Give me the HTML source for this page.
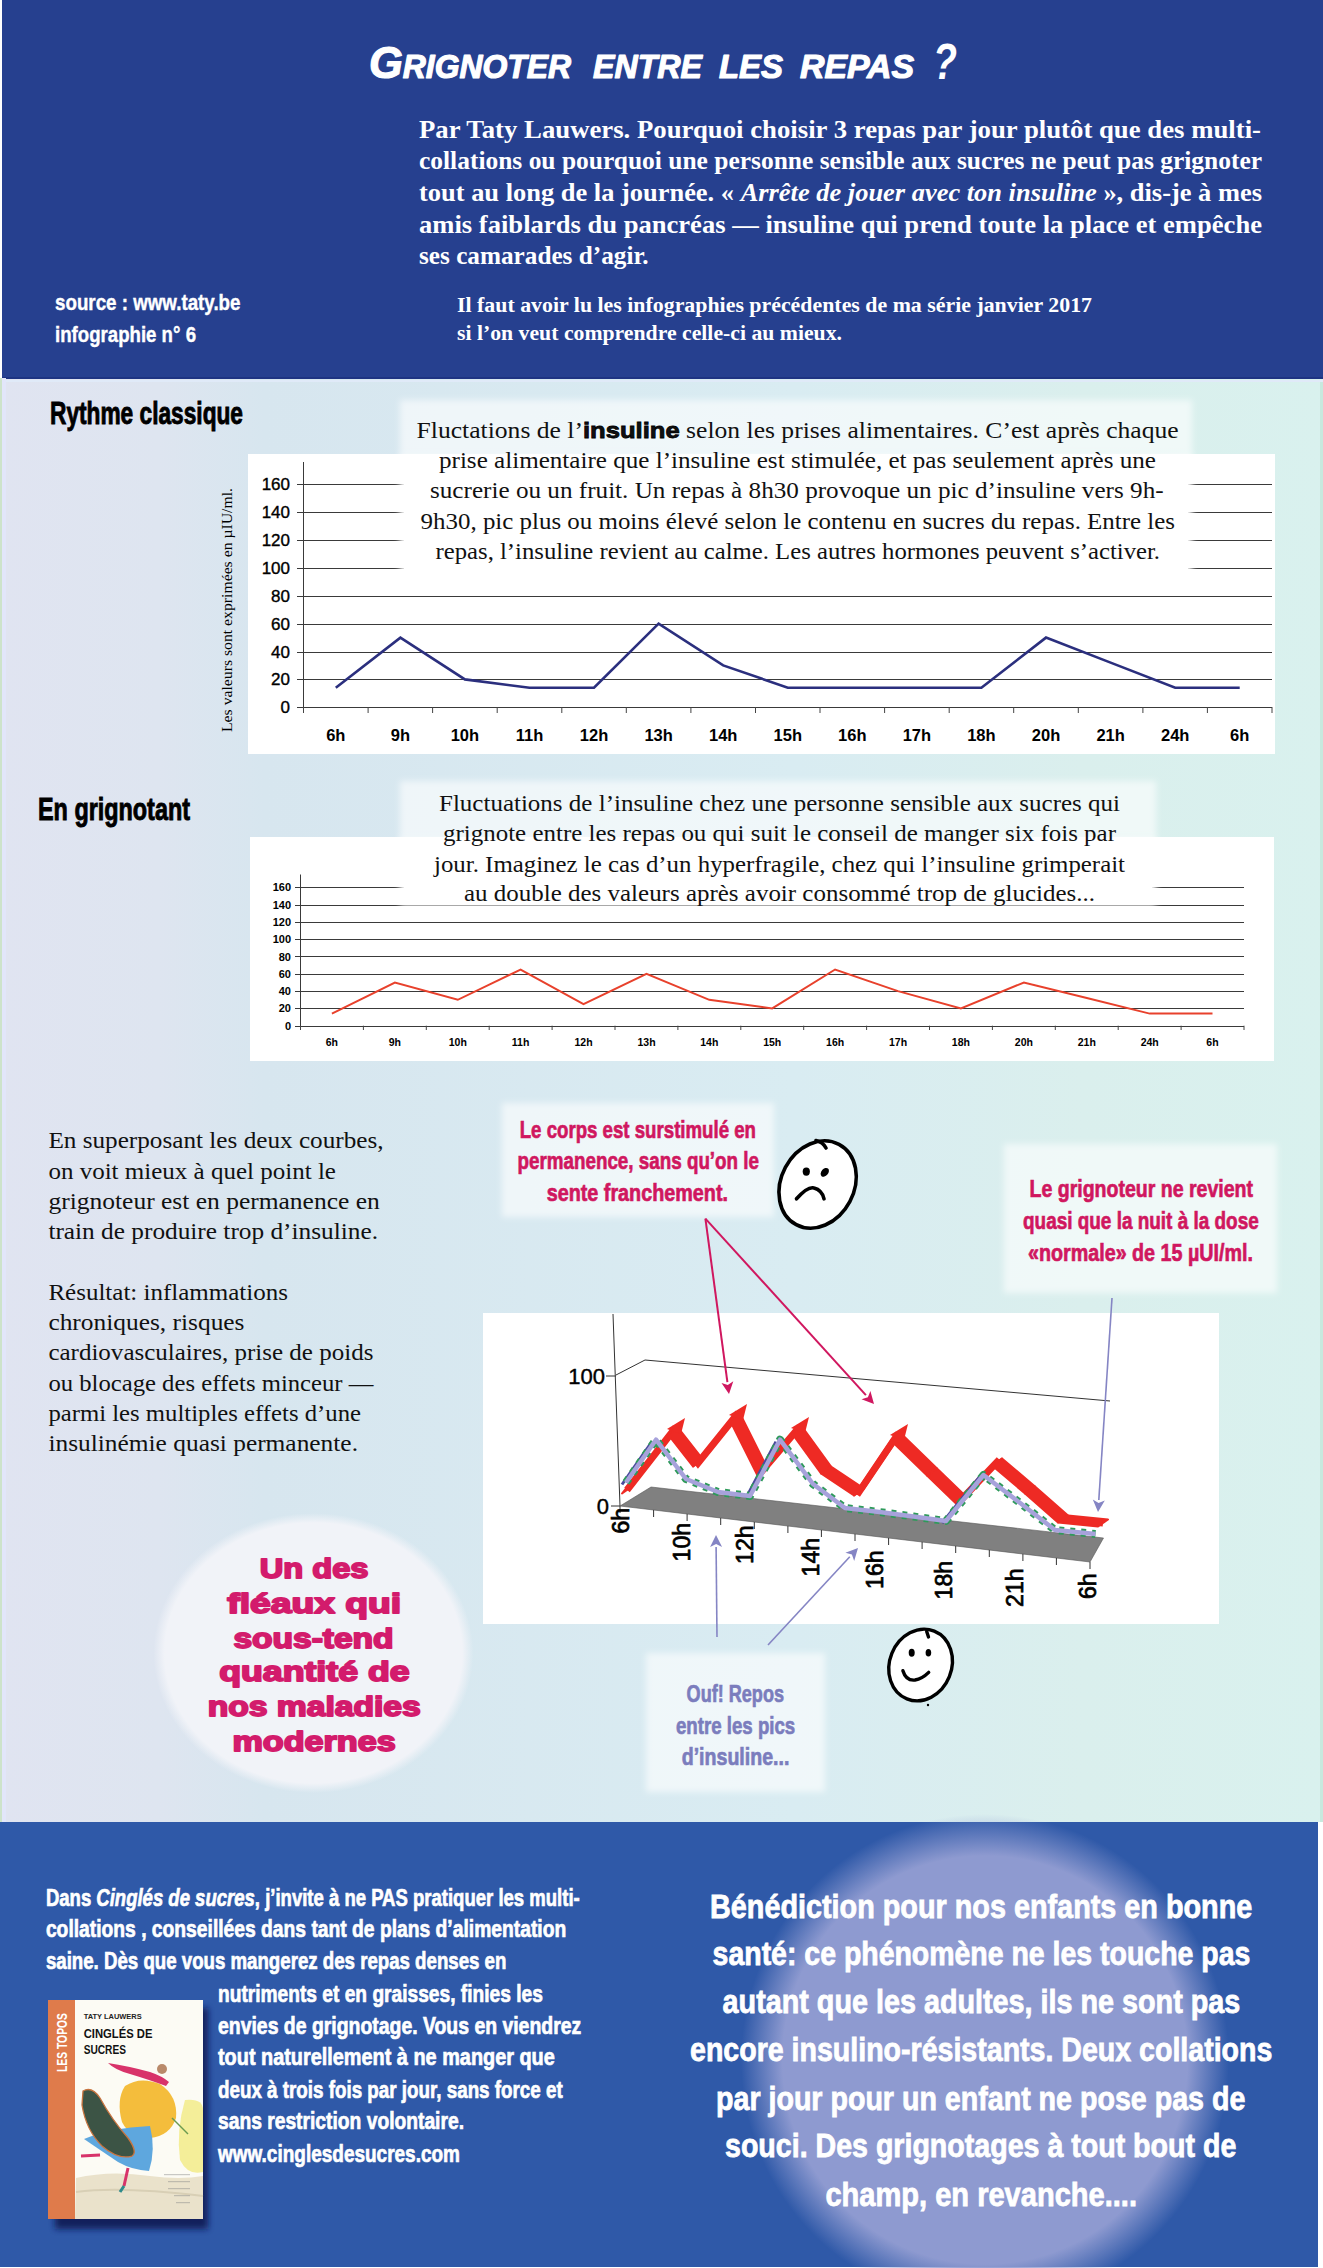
<!DOCTYPE html>
<html><head><meta charset="utf-8"><title>Grignoter entre les repas ?</title>
<style>html,body{margin:0;padding:0;width:1323px;height:2268px;overflow:hidden;background:#fff}</style>
</head><body>
<svg width="1323" height="2268" viewBox="0 0 1323 2268" style="display:block">
<defs>
<linearGradient id="midbg" x1="0" y1="0" x2="1" y2="0">
 <stop offset="0" stop-color="#E0E4F1"/>
 <stop offset="0.12" stop-color="#DEE5F0"/>
 <stop offset="0.2" stop-color="#D7E6EF"/>
 <stop offset="0.6" stop-color="#D9ECF2"/>
 <stop offset="0.82" stop-color="#DAEFED"/>
 <stop offset="1" stop-color="#D9F1EE"/>
</linearGradient>
<radialGradient id="glow" cx="0.5" cy="0.5" r="0.5">
 <stop offset="0" stop-color="#8E9AD0"/>
 <stop offset="0.83" stop-color="#8E9AD0"/>
 <stop offset="1" stop-color="#8E9AD0" stop-opacity="0"/>
</radialGradient>
<radialGradient id="oval" cx="0.5" cy="0.5" r="0.5">
 <stop offset="0" stop-color="#F1F3F8"/>
 <stop offset="0.93" stop-color="#F1F3F8"/>
 <stop offset="1" stop-color="#F1F3F8" stop-opacity="0"/>
</radialGradient>
<filter id="soft" x="-10%" y="-10%" width="120%" height="120%"><feGaussianBlur stdDeviation="3"/></filter>
<filter id="shadow" x="-20%" y="-20%" width="150%" height="150%"><feGaussianBlur stdDeviation="3"/></filter>
</defs>
<rect x="0" y="0" width="1323" height="2268" fill="#fff"/>
<rect x="0" y="379" width="1323" height="1443" fill="url(#midbg)"/>
<rect x="2" y="0" width="1321" height="379" fill="#26408F"/>
<rect x="2" y="377" width="1321" height="2" fill="#1E3482"/>
<rect x="0" y="380" width="1323" height="2" fill="#E0EAF8"/>
<rect x="0" y="378" width="2" height="1444" fill="#CDE3CB"/>
<rect x="2" y="378" width="4" height="1444" fill="#E2E6FA"/>
<rect x="1320" y="382" width="3" height="1440" fill="#C8E9DE"/>
<rect x="0" y="1822" width="1318" height="445" fill="#2F59A8"/>
<text x="369" y="78" font-family='"Liberation Sans", sans-serif' font-weight="bold" font-style="italic" fill="#fff" stroke="#fff" stroke-width="1.2" stroke-linejoin="round" textLength="202" lengthAdjust="spacingAndGlyphs"><tspan font-size="45">G</tspan><tspan font-size="33">RIGNOTER</tspan></text>
<text x="593" y="78" font-family='"Liberation Sans", sans-serif' font-weight="bold" font-style="italic" fill="#fff" stroke="#fff" stroke-width="1.2" stroke-linejoin="round" textLength="109" lengthAdjust="spacingAndGlyphs"><tspan font-size="45"></tspan><tspan font-size="33">ENTRE</tspan></text>
<text x="719" y="78" font-family='"Liberation Sans", sans-serif' font-weight="bold" font-style="italic" fill="#fff" stroke="#fff" stroke-width="1.2" stroke-linejoin="round" textLength="64" lengthAdjust="spacingAndGlyphs"><tspan font-size="45"></tspan><tspan font-size="33">LES</tspan></text>
<text x="800" y="78" font-family='"Liberation Sans", sans-serif' font-weight="bold" font-style="italic" fill="#fff" stroke="#fff" stroke-width="1.2" stroke-linejoin="round" textLength="114" lengthAdjust="spacingAndGlyphs"><tspan font-size="45"></tspan><tspan font-size="33">REPAS</tspan></text>
<text x="933.0" y="79.0" font-family='"Liberation Sans", sans-serif' font-size="50" font-weight="bold" font-style="italic" fill="#FFFFFF" textLength="24.0" lengthAdjust="spacingAndGlyphs" >?</text>
<text x="419.0" y="137.6" font-family='"Liberation Serif", serif' font-size="24.5" font-weight="bold" font-style="normal" fill="#FFFFFF" textLength="842.0" lengthAdjust="spacingAndGlyphs" >Par Taty Lauwers. Pourquoi choisir 3 repas par jour plutôt que des multi-</text>
<text x="419.0" y="169.2" font-family='"Liberation Serif", serif' font-size="24.5" font-weight="bold" font-style="normal" fill="#FFFFFF" textLength="843.0" lengthAdjust="spacingAndGlyphs" >collations ou pourquoi une personne sensible aux sucres ne peut pas grignoter</text>
<text x="419.0" y="200.9" font-family='"Liberation Serif", serif' font-size="24.5" font-weight="bold" font-style="normal" fill="#FFFFFF" textLength="843.0" lengthAdjust="spacingAndGlyphs" >tout au long de la journée. « <tspan font-style="italic">Arrête de jouer avec ton insuline</tspan> », dis-je à mes</text>
<text x="419.0" y="232.6" font-family='"Liberation Serif", serif' font-size="24.5" font-weight="bold" font-style="normal" fill="#FFFFFF" textLength="843.0" lengthAdjust="spacingAndGlyphs" >amis  faiblards du pancréas — insuline qui prend toute la place et empêche</text>
<text x="419.0" y="264.3" font-family='"Liberation Serif", serif' font-size="24.5" font-weight="bold" font-style="normal" fill="#FFFFFF" textLength="229.6" lengthAdjust="spacingAndGlyphs" >ses camarades d’agir.</text>
<text x="55.0" y="310.0" font-family='"Liberation Sans", sans-serif' font-size="22" font-weight="bold" font-style="normal" fill="#FFFFFF" textLength="185.5" lengthAdjust="spacingAndGlyphs" stroke="#fff" stroke-width="0.4">source : www.taty.be</text>
<text x="55.0" y="342.0" font-family='"Liberation Sans", sans-serif' font-size="22" font-weight="bold" font-style="normal" fill="#FFFFFF" textLength="141.0" lengthAdjust="spacingAndGlyphs" stroke="#fff" stroke-width="0.4">infographie n° 6</text>
<text x="457.0" y="312.0" font-family='"Liberation Serif", serif' font-size="20" font-weight="bold" font-style="normal" fill="#FFFFFF" textLength="635.0" lengthAdjust="spacingAndGlyphs" >Il faut avoir lu les infographies précédentes de ma série janvier 2017</text>
<text x="457.0" y="340.0" font-family='"Liberation Serif", serif' font-size="20" font-weight="bold" font-style="normal" fill="#FFFFFF" textLength="385.0" lengthAdjust="spacingAndGlyphs" >si l’on veut comprendre celle-ci au mieux.</text>
<text x="50" y="424" font-family='"Liberation Sans", sans-serif' font-size="31" font-weight="bold" fill="#000" stroke="#000" stroke-width="0.9" textLength="193" lengthAdjust="spacingAndGlyphs">Rythme classique</text>
<rect x="248" y="454" width="1027" height="300" fill="#fff"/>
<rect x="400" y="400" width="792" height="54" fill="#fff" fill-opacity="0.6" filter="url(#soft)"/>
<line x1="297" y1="707.5" x2="1272" y2="707.5" stroke="#3a3a3a" stroke-width="1"/>
<line x1="297" y1="679.5" x2="1272" y2="679.5" stroke="#3a3a3a" stroke-width="1"/>
<line x1="297" y1="652.5" x2="1272" y2="652.5" stroke="#3a3a3a" stroke-width="1"/>
<line x1="297" y1="624.5" x2="1272" y2="624.5" stroke="#3a3a3a" stroke-width="1"/>
<line x1="297" y1="596.5" x2="1272" y2="596.5" stroke="#3a3a3a" stroke-width="1"/>
<line x1="297" y1="568.5" x2="1272" y2="568.5" stroke="#3a3a3a" stroke-width="1"/>
<line x1="297" y1="540.5" x2="1272" y2="540.5" stroke="#3a3a3a" stroke-width="1"/>
<line x1="297" y1="512.5" x2="1272" y2="512.5" stroke="#3a3a3a" stroke-width="1"/>
<line x1="297" y1="484.5" x2="1272" y2="484.5" stroke="#3a3a3a" stroke-width="1"/>
<line x1="303.5" y1="462" x2="303.5" y2="707.5" stroke="#3a3a3a" stroke-width="1"/>
<line x1="303.5" y1="707" x2="303.5" y2="713" stroke="#444" stroke-width="1"/>
<line x1="368.1" y1="707" x2="368.1" y2="713" stroke="#444" stroke-width="1"/>
<line x1="432.6" y1="707" x2="432.6" y2="713" stroke="#444" stroke-width="1"/>
<line x1="497.2" y1="707" x2="497.2" y2="713" stroke="#444" stroke-width="1"/>
<line x1="561.8" y1="707" x2="561.8" y2="713" stroke="#444" stroke-width="1"/>
<line x1="626.3" y1="707" x2="626.3" y2="713" stroke="#444" stroke-width="1"/>
<line x1="690.9" y1="707" x2="690.9" y2="713" stroke="#444" stroke-width="1"/>
<line x1="755.5" y1="707" x2="755.5" y2="713" stroke="#444" stroke-width="1"/>
<line x1="820.0" y1="707" x2="820.0" y2="713" stroke="#444" stroke-width="1"/>
<line x1="884.6" y1="707" x2="884.6" y2="713" stroke="#444" stroke-width="1"/>
<line x1="949.2" y1="707" x2="949.2" y2="713" stroke="#444" stroke-width="1"/>
<line x1="1013.7" y1="707" x2="1013.7" y2="713" stroke="#444" stroke-width="1"/>
<line x1="1078.3" y1="707" x2="1078.3" y2="713" stroke="#444" stroke-width="1"/>
<line x1="1142.9" y1="707" x2="1142.9" y2="713" stroke="#444" stroke-width="1"/>
<line x1="1207.4" y1="707" x2="1207.4" y2="713" stroke="#444" stroke-width="1"/>
<line x1="1272.0" y1="707" x2="1272.0" y2="713" stroke="#444" stroke-width="1"/>
<text x="290" y="713.2" font-family='"Liberation Sans", sans-serif' font-size="17" text-anchor="end" fill="#000" stroke="#000" stroke-width="0.35">0</text>
<text x="290" y="685.4" font-family='"Liberation Sans", sans-serif' font-size="17" text-anchor="end" fill="#000" stroke="#000" stroke-width="0.35">20</text>
<text x="290" y="657.5" font-family='"Liberation Sans", sans-serif' font-size="17" text-anchor="end" fill="#000" stroke="#000" stroke-width="0.35">40</text>
<text x="290" y="629.7" font-family='"Liberation Sans", sans-serif' font-size="17" text-anchor="end" fill="#000" stroke="#000" stroke-width="0.35">60</text>
<text x="290" y="601.8" font-family='"Liberation Sans", sans-serif' font-size="17" text-anchor="end" fill="#000" stroke="#000" stroke-width="0.35">80</text>
<text x="290" y="574.0" font-family='"Liberation Sans", sans-serif' font-size="17" text-anchor="end" fill="#000" stroke="#000" stroke-width="0.35">100</text>
<text x="290" y="546.1" font-family='"Liberation Sans", sans-serif' font-size="17" text-anchor="end" fill="#000" stroke="#000" stroke-width="0.35">120</text>
<text x="290" y="518.2" font-family='"Liberation Sans", sans-serif' font-size="17" text-anchor="end" fill="#000" stroke="#000" stroke-width="0.35">140</text>
<text x="290" y="490.4" font-family='"Liberation Sans", sans-serif' font-size="17" text-anchor="end" fill="#000" stroke="#000" stroke-width="0.35">160</text>
<text x="335.8" y="741" font-family='"Liberation Sans", sans-serif' font-size="16.5" font-weight="bold" text-anchor="middle" fill="#000">6h</text>
<text x="400.4" y="741" font-family='"Liberation Sans", sans-serif' font-size="16.5" font-weight="bold" text-anchor="middle" fill="#000">9h</text>
<text x="464.9" y="741" font-family='"Liberation Sans", sans-serif' font-size="16.5" font-weight="bold" text-anchor="middle" fill="#000">10h</text>
<text x="529.5" y="741" font-family='"Liberation Sans", sans-serif' font-size="16.5" font-weight="bold" text-anchor="middle" fill="#000">11h</text>
<text x="594.0" y="741" font-family='"Liberation Sans", sans-serif' font-size="16.5" font-weight="bold" text-anchor="middle" fill="#000">12h</text>
<text x="658.6" y="741" font-family='"Liberation Sans", sans-serif' font-size="16.5" font-weight="bold" text-anchor="middle" fill="#000">13h</text>
<text x="723.2" y="741" font-family='"Liberation Sans", sans-serif' font-size="16.5" font-weight="bold" text-anchor="middle" fill="#000">14h</text>
<text x="787.8" y="741" font-family='"Liberation Sans", sans-serif' font-size="16.5" font-weight="bold" text-anchor="middle" fill="#000">15h</text>
<text x="852.3" y="741" font-family='"Liberation Sans", sans-serif' font-size="16.5" font-weight="bold" text-anchor="middle" fill="#000">16h</text>
<text x="916.9" y="741" font-family='"Liberation Sans", sans-serif' font-size="16.5" font-weight="bold" text-anchor="middle" fill="#000">17h</text>
<text x="981.4" y="741" font-family='"Liberation Sans", sans-serif' font-size="16.5" font-weight="bold" text-anchor="middle" fill="#000">18h</text>
<text x="1046.0" y="741" font-family='"Liberation Sans", sans-serif' font-size="16.5" font-weight="bold" text-anchor="middle" fill="#000">20h</text>
<text x="1110.6" y="741" font-family='"Liberation Sans", sans-serif' font-size="16.5" font-weight="bold" text-anchor="middle" fill="#000">21h</text>
<text x="1175.2" y="741" font-family='"Liberation Sans", sans-serif' font-size="16.5" font-weight="bold" text-anchor="middle" fill="#000">24h</text>
<text x="1239.7" y="741" font-family='"Liberation Sans", sans-serif' font-size="16.5" font-weight="bold" text-anchor="middle" fill="#000">6h</text>
<polyline points="335.8,687.7 400.4,637.6 464.9,679.4 529.5,687.7 594.0,687.7 658.6,623.7 723.2,665.4 787.8,687.7 852.3,687.7 916.9,687.7 981.4,687.7 1046.0,637.6 1110.6,662.6 1175.2,687.7 1239.7,687.7" fill="none" stroke="#2B2F7E" stroke-width="2.6" stroke-linejoin="miter"/>
<rect x="400" y="454" width="792" height="119" fill="#fff" filter="url(#soft)"/>
<rect x="404" y="454" width="784" height="117" fill="#fff"/>
<text x="416.6" y="437.5" font-family='"Liberation Serif", serif' font-size="22.5" font-weight="normal" font-style="normal" fill="#111" textLength="762.1" lengthAdjust="spacingAndGlyphs" >Fluctations de l’<tspan font-family='"Liberation Sans", sans-serif' font-weight="900" stroke="#000" stroke-width="0.8">insuline</tspan> selon les prises alimentaires. C’est après chaque</text>
<text x="439.0" y="467.5" font-family='"Liberation Serif", serif' font-size="22.5" font-weight="normal" font-style="normal" fill="#111" textLength="717.0" lengthAdjust="spacingAndGlyphs" >prise alimentaire que l’insuline est stimulée, et pas seulement après une</text>
<text x="430.0" y="497.5" font-family='"Liberation Serif", serif' font-size="22.5" font-weight="normal" font-style="normal" fill="#111" textLength="733.6" lengthAdjust="spacingAndGlyphs" >sucrerie ou un fruit. Un repas à 8h30 provoque un pic d’insuline vers 9h-</text>
<text x="420.6" y="528.5" font-family='"Liberation Serif", serif' font-size="22.5" font-weight="normal" font-style="normal" fill="#111" textLength="754.4" lengthAdjust="spacingAndGlyphs" >9h30, pic plus ou moins élevé selon le contenu en sucres du repas. Entre les</text>
<text x="435.5" y="558.5" font-family='"Liberation Serif", serif' font-size="22.5" font-weight="normal" font-style="normal" fill="#111" textLength="724.5" lengthAdjust="spacingAndGlyphs" >repas, l’insuline revient au calme. Les autres hormones peuvent s’activer.</text>
<text transform="translate(232,732) rotate(-90)" x="0" y="0" font-family='"Liberation Serif", serif' font-size="15" fill="#000" textLength="244" lengthAdjust="spacingAndGlyphs">Les valeurs sont exprimées en µIU/ml.</text>
<text x="38" y="820" font-family='"Liberation Sans", sans-serif' font-size="31" font-weight="bold" fill="#000" stroke="#000" stroke-width="0.9" textLength="152" lengthAdjust="spacingAndGlyphs">En grignotant</text>
<rect x="250" y="837" width="1024" height="224" fill="#fff"/>
<rect x="400" y="781" width="756" height="56" fill="#fff" fill-opacity="0.6" filter="url(#soft)"/>
<line x1="295" y1="1026.5" x2="1244" y2="1026.5" stroke="#3a3a3a" stroke-width="1"/>
<line x1="295" y1="1008.5" x2="1244" y2="1008.5" stroke="#3a3a3a" stroke-width="1"/>
<line x1="295" y1="991.5" x2="1244" y2="991.5" stroke="#3a3a3a" stroke-width="1"/>
<line x1="295" y1="974.5" x2="1244" y2="974.5" stroke="#3a3a3a" stroke-width="1"/>
<line x1="295" y1="956.5" x2="1244" y2="956.5" stroke="#3a3a3a" stroke-width="1"/>
<line x1="295" y1="939.5" x2="1244" y2="939.5" stroke="#3a3a3a" stroke-width="1"/>
<line x1="295" y1="922.5" x2="1244" y2="922.5" stroke="#3a3a3a" stroke-width="1"/>
<line x1="295" y1="905.5" x2="1244" y2="905.5" stroke="#3a3a3a" stroke-width="1"/>
<line x1="295" y1="887.5" x2="1244" y2="887.5" stroke="#3a3a3a" stroke-width="1"/>
<line x1="300.5" y1="874.5" x2="300.5" y2="1026" stroke="#3a3a3a" stroke-width="1"/>
<line x1="300.5" y1="1025.7" x2="300.5" y2="1030" stroke="#444" stroke-width="1"/>
<line x1="363.4" y1="1025.7" x2="363.4" y2="1030" stroke="#444" stroke-width="1"/>
<line x1="426.3" y1="1025.7" x2="426.3" y2="1030" stroke="#444" stroke-width="1"/>
<line x1="489.2" y1="1025.7" x2="489.2" y2="1030" stroke="#444" stroke-width="1"/>
<line x1="552.1" y1="1025.7" x2="552.1" y2="1030" stroke="#444" stroke-width="1"/>
<line x1="615.0" y1="1025.7" x2="615.0" y2="1030" stroke="#444" stroke-width="1"/>
<line x1="677.9" y1="1025.7" x2="677.9" y2="1030" stroke="#444" stroke-width="1"/>
<line x1="740.8" y1="1025.7" x2="740.8" y2="1030" stroke="#444" stroke-width="1"/>
<line x1="803.7" y1="1025.7" x2="803.7" y2="1030" stroke="#444" stroke-width="1"/>
<line x1="866.6" y1="1025.7" x2="866.6" y2="1030" stroke="#444" stroke-width="1"/>
<line x1="929.5" y1="1025.7" x2="929.5" y2="1030" stroke="#444" stroke-width="1"/>
<line x1="992.4" y1="1025.7" x2="992.4" y2="1030" stroke="#444" stroke-width="1"/>
<line x1="1055.3" y1="1025.7" x2="1055.3" y2="1030" stroke="#444" stroke-width="1"/>
<line x1="1118.2" y1="1025.7" x2="1118.2" y2="1030" stroke="#444" stroke-width="1"/>
<line x1="1181.1" y1="1025.7" x2="1181.1" y2="1030" stroke="#444" stroke-width="1"/>
<line x1="1244.0" y1="1025.7" x2="1244.0" y2="1030" stroke="#444" stroke-width="1"/>
<text x="291" y="1029.7" font-family='"Liberation Sans", sans-serif' font-size="11" font-weight="bold" text-anchor="end" fill="#000">0</text>
<text x="291" y="1012.4" font-family='"Liberation Sans", sans-serif' font-size="11" font-weight="bold" text-anchor="end" fill="#000">20</text>
<text x="291" y="995.1" font-family='"Liberation Sans", sans-serif' font-size="11" font-weight="bold" text-anchor="end" fill="#000">40</text>
<text x="291" y="977.8" font-family='"Liberation Sans", sans-serif' font-size="11" font-weight="bold" text-anchor="end" fill="#000">60</text>
<text x="291" y="960.5" font-family='"Liberation Sans", sans-serif' font-size="11" font-weight="bold" text-anchor="end" fill="#000">80</text>
<text x="291" y="943.2" font-family='"Liberation Sans", sans-serif' font-size="11" font-weight="bold" text-anchor="end" fill="#000">100</text>
<text x="291" y="925.9" font-family='"Liberation Sans", sans-serif' font-size="11" font-weight="bold" text-anchor="end" fill="#000">120</text>
<text x="291" y="908.6" font-family='"Liberation Sans", sans-serif' font-size="11" font-weight="bold" text-anchor="end" fill="#000">140</text>
<text x="291" y="891.3" font-family='"Liberation Sans", sans-serif' font-size="11" font-weight="bold" text-anchor="end" fill="#000">160</text>
<text x="331.9" y="1046" font-family='"Liberation Sans", sans-serif' font-size="10.5" font-weight="bold" text-anchor="middle" fill="#000">6h</text>
<text x="394.9" y="1046" font-family='"Liberation Sans", sans-serif' font-size="10.5" font-weight="bold" text-anchor="middle" fill="#000">9h</text>
<text x="457.8" y="1046" font-family='"Liberation Sans", sans-serif' font-size="10.5" font-weight="bold" text-anchor="middle" fill="#000">10h</text>
<text x="520.6" y="1046" font-family='"Liberation Sans", sans-serif' font-size="10.5" font-weight="bold" text-anchor="middle" fill="#000">11h</text>
<text x="583.5" y="1046" font-family='"Liberation Sans", sans-serif' font-size="10.5" font-weight="bold" text-anchor="middle" fill="#000">12h</text>
<text x="646.5" y="1046" font-family='"Liberation Sans", sans-serif' font-size="10.5" font-weight="bold" text-anchor="middle" fill="#000">13h</text>
<text x="709.3" y="1046" font-family='"Liberation Sans", sans-serif' font-size="10.5" font-weight="bold" text-anchor="middle" fill="#000">14h</text>
<text x="772.2" y="1046" font-family='"Liberation Sans", sans-serif' font-size="10.5" font-weight="bold" text-anchor="middle" fill="#000">15h</text>
<text x="835.1" y="1046" font-family='"Liberation Sans", sans-serif' font-size="10.5" font-weight="bold" text-anchor="middle" fill="#000">16h</text>
<text x="898.0" y="1046" font-family='"Liberation Sans", sans-serif' font-size="10.5" font-weight="bold" text-anchor="middle" fill="#000">17h</text>
<text x="960.9" y="1046" font-family='"Liberation Sans", sans-serif' font-size="10.5" font-weight="bold" text-anchor="middle" fill="#000">18h</text>
<text x="1023.9" y="1046" font-family='"Liberation Sans", sans-serif' font-size="10.5" font-weight="bold" text-anchor="middle" fill="#000">20h</text>
<text x="1086.8" y="1046" font-family='"Liberation Sans", sans-serif' font-size="10.5" font-weight="bold" text-anchor="middle" fill="#000">21h</text>
<text x="1149.7" y="1046" font-family='"Liberation Sans", sans-serif' font-size="10.5" font-weight="bold" text-anchor="middle" fill="#000">24h</text>
<text x="1212.5" y="1046" font-family='"Liberation Sans", sans-serif' font-size="10.5" font-weight="bold" text-anchor="middle" fill="#000">6h</text>
<polyline points="331.9,1013.6 394.9,982.5 457.8,999.8 520.6,969.5 583.5,1004.1 646.5,973.8 709.3,999.8 772.2,1008.4 835.1,969.5 898.0,991.1 960.9,1008.4 1023.9,982.5 1086.8,998.0 1149.7,1013.6 1212.5,1013.6" fill="none" stroke="#E8412C" stroke-width="2" stroke-linejoin="miter"/>
<rect x="400" y="837" width="756" height="69" fill="#fff" filter="url(#soft)"/>
<rect x="404" y="837" width="748" height="67" fill="#fff"/>
<text x="439.0" y="811.0" font-family='"Liberation Serif", serif' font-size="22.5" font-weight="normal" font-style="normal" fill="#111" textLength="681.0" lengthAdjust="spacingAndGlyphs" >Fluctuations de l’insuline chez une personne sensible aux sucres qui</text>
<text x="443.0" y="841.0" font-family='"Liberation Serif", serif' font-size="22.5" font-weight="normal" font-style="normal" fill="#111" textLength="673.0" lengthAdjust="spacingAndGlyphs" >grignote entre les repas ou qui suit le conseil de manger six fois par</text>
<text x="434.0" y="872.0" font-family='"Liberation Serif", serif' font-size="22.5" font-weight="normal" font-style="normal" fill="#111" textLength="691.0" lengthAdjust="spacingAndGlyphs" >jour. Imaginez le cas d’un hyperfragile, chez qui l’insuline grimperait</text>
<text x="464.0" y="901.0" font-family='"Liberation Serif", serif' font-size="22.5" font-weight="normal" font-style="normal" fill="#111" textLength="631.0" lengthAdjust="spacingAndGlyphs" >au double des valeurs après avoir consommé trop de glucides...</text>
<text x="48.4" y="1148.0" font-family='"Liberation Serif", serif' font-size="22.5" font-weight="normal" font-style="normal" fill="#111" textLength="335.2" lengthAdjust="spacingAndGlyphs" >En superposant les deux courbes,</text>
<text x="48.4" y="1179.0" font-family='"Liberation Serif", serif' font-size="22.5" font-weight="normal" font-style="normal" fill="#111" textLength="287.6" lengthAdjust="spacingAndGlyphs" >on voit mieux à quel point le</text>
<text x="48.4" y="1209.0" font-family='"Liberation Serif", serif' font-size="22.5" font-weight="normal" font-style="normal" fill="#111" textLength="331.4" lengthAdjust="spacingAndGlyphs" >grignoteur est en permanence en</text>
<text x="48.4" y="1238.7" font-family='"Liberation Serif", serif' font-size="22.5" font-weight="normal" font-style="normal" fill="#111" textLength="329.6" lengthAdjust="spacingAndGlyphs" >train de produire trop d’insuline.</text>
<text x="48.4" y="1300.0" font-family='"Liberation Serif", serif' font-size="22.5" font-weight="normal" font-style="normal" fill="#111" textLength="239.6" lengthAdjust="spacingAndGlyphs" >Résultat: inflammations</text>
<text x="48.4" y="1330.0" font-family='"Liberation Serif", serif' font-size="22.5" font-weight="normal" font-style="normal" fill="#111" textLength="196.1" lengthAdjust="spacingAndGlyphs" >chroniques, risques</text>
<text x="48.4" y="1360.0" font-family='"Liberation Serif", serif' font-size="22.5" font-weight="normal" font-style="normal" fill="#111" textLength="325.0" lengthAdjust="spacingAndGlyphs" >cardiovasculaires, prise de poids</text>
<text x="48.4" y="1390.7" font-family='"Liberation Serif", serif' font-size="22.5" font-weight="normal" font-style="normal" fill="#111" textLength="325.0" lengthAdjust="spacingAndGlyphs" >ou blocage des effets minceur —</text>
<text x="48.4" y="1421.0" font-family='"Liberation Serif", serif' font-size="22.5" font-weight="normal" font-style="normal" fill="#111" textLength="312.6" lengthAdjust="spacingAndGlyphs" >parmi les multiples effets d’une</text>
<text x="48.4" y="1451.0" font-family='"Liberation Serif", serif' font-size="22.5" font-weight="normal" font-style="normal" fill="#111" textLength="309.6" lengthAdjust="spacingAndGlyphs" >insulinémie quasi permanente.</text>
<rect x="502" y="1103" width="272" height="114" fill="#fff" fill-opacity="0.6" filter="url(#soft)"/>
<text x="519.7" y="1137.6" font-family='"Liberation Sans", sans-serif' font-size="24.5" font-weight="bold" font-style="normal" fill="#D0175F" textLength="236.3" lengthAdjust="spacingAndGlyphs" stroke="#D0175F" stroke-width="0.7">Le corps est surstimulé en</text>
<text x="517.5" y="1169.0" font-family='"Liberation Sans", sans-serif' font-size="24.5" font-weight="bold" font-style="normal" fill="#D0175F" textLength="241.5" lengthAdjust="spacingAndGlyphs" stroke="#D0175F" stroke-width="0.7">permanence, sans qu’on le</text>
<text x="546.7" y="1201.0" font-family='"Liberation Sans", sans-serif' font-size="24.5" font-weight="bold" font-style="normal" fill="#D0175F" textLength="181.3" lengthAdjust="spacingAndGlyphs" stroke="#D0175F" stroke-width="0.7">sente franchement.</text>
<rect x="1004" y="1144" width="273" height="149" fill="#fff" fill-opacity="0.6" filter="url(#soft)"/>
<text x="1029.5" y="1197.0" font-family='"Liberation Sans", sans-serif' font-size="24.5" font-weight="bold" font-style="normal" fill="#D0175F" textLength="223.5" lengthAdjust="spacingAndGlyphs" stroke="#D0175F" stroke-width="0.7">Le grignoteur ne revient</text>
<text x="1023.0" y="1229.0" font-family='"Liberation Sans", sans-serif' font-size="24.5" font-weight="bold" font-style="normal" fill="#D0175F" textLength="235.7" lengthAdjust="spacingAndGlyphs" stroke="#D0175F" stroke-width="0.7">quasi que la nuit à la dose</text>
<text x="1028.0" y="1261.0" font-family='"Liberation Sans", sans-serif' font-size="24.5" font-weight="bold" font-style="normal" fill="#D0175F" textLength="225.0" lengthAdjust="spacingAndGlyphs" stroke="#D0175F" stroke-width="0.7">«normale» de 15 µUI/ml.</text>
<g fill="none" stroke="#000" stroke-width="3.6" stroke-linecap="round"><ellipse cx="817.6" cy="1184.5" rx="36.5" ry="45.5" transform="rotate(28 817.6 1184.5)" fill="#fff"/><path d="M796.5 1198.8 Q808 1186 814 1188 Q822 1190 824 1198.8"/><path d="M816 1140.5 Q823 1142 826 1148"/></g>
<ellipse cx="806.3" cy="1171.6" rx="3.6" ry="4.2" fill="#000"/>
<ellipse cx="824.8" cy="1172.3" rx="5" ry="3.4" transform="rotate(-50 824.8 1172.3)" fill="#000"/>
<g fill="none" stroke="#000" stroke-width="3.4" stroke-linecap="round"><ellipse cx="920.6" cy="1665" rx="31" ry="36.5" transform="rotate(22 920.6 1665)" fill="#fff"/><path d="M902.9 1670.7 Q906 1681 915 1680 Q922 1679 928.7 1672.4"/><path d="M926.7 1631.5 L928.5 1637"/></g>
<ellipse cx="911.7" cy="1652.7" rx="3" ry="4" fill="#000"/><ellipse cx="928.4" cy="1652.7" rx="2.8" ry="3.8" fill="#000"/><circle cx="928" cy="1705" r="1.2" fill="#000"/>
<rect x="483" y="1313" width="736" height="311" fill="#fff"/>
<g stroke="#333" stroke-width="1" fill="none"><line x1="613" y1="1314" x2="620" y2="1506"/><polyline points="616,1375 645,1360 1110,1401"/><line x1="606" y1="1376" x2="616" y2="1376"/><line x1="611" y1="1506" x2="620" y2="1506"/></g>
<text x="605" y="1384" font-family='"Liberation Sans", sans-serif' font-size="22" text-anchor="end" fill="#000" stroke="#000" stroke-width="0.4">100</text>
<text x="609" y="1514" font-family='"Liberation Sans", sans-serif' font-size="22" text-anchor="end" fill="#000" stroke="#000" stroke-width="0.4">0</text>
<polygon points="620,1506 651,1487 1103.5,1538 1090,1562" fill="#808080" stroke="#555" stroke-width="0.6"/>
<line x1="620.0" y1="1506.0" x2="620.0" y2="1513.0" stroke="#333" stroke-width="1"/>
<line x1="653.6" y1="1510.0" x2="653.6" y2="1517.0" stroke="#333" stroke-width="1"/>
<line x1="687.1" y1="1514.0" x2="687.1" y2="1521.0" stroke="#333" stroke-width="1"/>
<line x1="720.7" y1="1518.0" x2="720.7" y2="1525.0" stroke="#333" stroke-width="1"/>
<line x1="754.3" y1="1522.0" x2="754.3" y2="1529.0" stroke="#333" stroke-width="1"/>
<line x1="787.9" y1="1526.0" x2="787.9" y2="1533.0" stroke="#333" stroke-width="1"/>
<line x1="821.4" y1="1530.0" x2="821.4" y2="1537.0" stroke="#333" stroke-width="1"/>
<line x1="855.0" y1="1534.0" x2="855.0" y2="1541.0" stroke="#333" stroke-width="1"/>
<line x1="888.6" y1="1538.0" x2="888.6" y2="1545.0" stroke="#333" stroke-width="1"/>
<line x1="922.1" y1="1542.0" x2="922.1" y2="1549.0" stroke="#333" stroke-width="1"/>
<line x1="955.7" y1="1546.0" x2="955.7" y2="1553.0" stroke="#333" stroke-width="1"/>
<line x1="989.3" y1="1550.0" x2="989.3" y2="1557.0" stroke="#333" stroke-width="1"/>
<line x1="1022.9" y1="1554.0" x2="1022.9" y2="1561.0" stroke="#333" stroke-width="1"/>
<line x1="1056.4" y1="1558.0" x2="1056.4" y2="1565.0" stroke="#333" stroke-width="1"/>
<line x1="1090.0" y1="1562.0" x2="1090.0" y2="1569.0" stroke="#333" stroke-width="1"/>
<text transform="translate(628.8,1508) rotate(-90)" x="0" y="0" text-anchor="end" font-family='"Liberation Sans", sans-serif' font-size="23" fill="#000" stroke="#000" stroke-width="0.7">6h</text>
<text transform="translate(689.8,1523) rotate(-90)" x="0" y="0" text-anchor="end" font-family='"Liberation Sans", sans-serif' font-size="23" fill="#000" stroke="#000" stroke-width="0.7">10h</text>
<text transform="translate(753.3,1525.5) rotate(-90)" x="0" y="0" text-anchor="end" font-family='"Liberation Sans", sans-serif' font-size="23" fill="#000" stroke="#000" stroke-width="0.7">12h</text>
<text transform="translate(818.9,1538) rotate(-90)" x="0" y="0" text-anchor="end" font-family='"Liberation Sans", sans-serif' font-size="23" fill="#000" stroke="#000" stroke-width="0.7">14h</text>
<text transform="translate(883.3,1550.5) rotate(-90)" x="0" y="0" text-anchor="end" font-family='"Liberation Sans", sans-serif' font-size="23" fill="#000" stroke="#000" stroke-width="0.7">16h</text>
<text transform="translate(951.8,1561) rotate(-90)" x="0" y="0" text-anchor="end" font-family='"Liberation Sans", sans-serif' font-size="23" fill="#000" stroke="#000" stroke-width="0.7">18h</text>
<text transform="translate(1022.8,1568.5) rotate(-90)" x="0" y="0" text-anchor="end" font-family='"Liberation Sans", sans-serif' font-size="23" fill="#000" stroke="#000" stroke-width="0.7">21h</text>
<text transform="translate(1096.3,1573.5) rotate(-90)" x="0" y="0" text-anchor="end" font-family='"Liberation Sans", sans-serif' font-size="23" fill="#000" stroke="#000" stroke-width="0.7">6h</text>
<polyline points="627,1490 673,1431 698,1463 735,1417 762,1471 797,1430 826,1470 859,1492 896,1437 932,1472 961,1500 997,1462 1030,1490 1063,1519 1103,1523" fill="none" stroke="#EE2A24" stroke-width="7" stroke-linejoin="miter" stroke-miterlimit="4"/>
<polygon points="622.0,1493.5 668.0,1434.5 678.0,1427.5 632.0,1486.5" fill="#EE2A24" stroke="#EE2A24" stroke-width="2" stroke-linejoin="round"/>
<polygon points="668.0,1434.5 693.0,1466.5 703.0,1459.5 678.0,1427.5" fill="#EE2A24" stroke="#EE2A24" stroke-width="2" stroke-linejoin="round"/>
<polygon points="693.0,1466.5 730.0,1420.5 740.0,1413.5 703.0,1459.5" fill="#EE2A24" stroke="#EE2A24" stroke-width="2" stroke-linejoin="round"/>
<polygon points="730.0,1420.5 757.0,1474.5 767.0,1467.5 740.0,1413.5" fill="#EE2A24" stroke="#EE2A24" stroke-width="2" stroke-linejoin="round"/>
<polygon points="757.0,1474.5 792.0,1433.5 802.0,1426.5 767.0,1467.5" fill="#EE2A24" stroke="#EE2A24" stroke-width="2" stroke-linejoin="round"/>
<polygon points="792.0,1433.5 821.0,1473.5 831.0,1466.5 802.0,1426.5" fill="#EE2A24" stroke="#EE2A24" stroke-width="2" stroke-linejoin="round"/>
<polygon points="821.0,1473.5 854.0,1495.5 864.0,1488.5 831.0,1466.5" fill="#EE2A24" stroke="#EE2A24" stroke-width="2" stroke-linejoin="round"/>
<polygon points="854.0,1495.5 891.0,1440.5 901.0,1433.5 864.0,1488.5" fill="#EE2A24" stroke="#EE2A24" stroke-width="2" stroke-linejoin="round"/>
<polygon points="891.0,1440.5 927.0,1475.5 937.0,1468.5 901.0,1433.5" fill="#EE2A24" stroke="#EE2A24" stroke-width="2" stroke-linejoin="round"/>
<polygon points="927.0,1475.5 956.0,1503.5 966.0,1496.5 937.0,1468.5" fill="#EE2A24" stroke="#EE2A24" stroke-width="2" stroke-linejoin="round"/>
<polygon points="956.0,1503.5 992.0,1465.5 1002.0,1458.5 966.0,1496.5" fill="#EE2A24" stroke="#EE2A24" stroke-width="2" stroke-linejoin="round"/>
<polygon points="992.0,1465.5 1025.0,1493.5 1035.0,1486.5 1002.0,1458.5" fill="#EE2A24" stroke="#EE2A24" stroke-width="2" stroke-linejoin="round"/>
<polygon points="1025.0,1493.5 1058.0,1522.5 1068.0,1515.5 1035.0,1486.5" fill="#EE2A24" stroke="#EE2A24" stroke-width="2" stroke-linejoin="round"/>
<polygon points="1058.0,1522.5 1098.0,1526.5 1108.0,1519.5 1068.0,1515.5" fill="#EE2A24" stroke="#EE2A24" stroke-width="2" stroke-linejoin="round"/>
<polygon points="667,1429 685,1418 681,1434" fill="#EE2A24"/>
<polygon points="729,1415 747,1404 743,1420" fill="#EE2A24"/>
<polygon points="791,1428 809,1417 805,1433" fill="#EE2A24"/>
<polygon points="890,1435 908,1424 904,1440" fill="#EE2A24"/>
<line x1="622" y1="1484.5" x2="652" y2="1441.7" stroke="#4A4A9C" stroke-width="3"/>
<line x1="746" y1="1498" x2="776" y2="1441.7" stroke="#4A4A9C" stroke-width="3"/>
<line x1="942" y1="1523" x2="979.5" y2="1477" stroke="#4A4A9C" stroke-width="3"/>
<polyline points="626,1482.5 656,1439.7 686,1479 718,1492 750,1496 780,1439.7 813,1484 845,1508 879.5,1512 913.5,1516.5 946,1521 983.5,1475 1019.5,1502.5 1055,1530 1095.5,1534" fill="none" stroke="#2E9A5A" stroke-width="8" stroke-dasharray="5 6" stroke-linejoin="round"/>
<polyline points="626,1482.5 656,1439.7 686,1479 718,1492 750,1496 780,1439.7 813,1484 845,1508 879.5,1512 913.5,1516.5 946,1521 983.5,1475 1019.5,1502.5 1055,1530 1095.5,1534" fill="none" stroke="#A7A2DB" stroke-width="4.5" stroke-linejoin="round"/>
<line x1="705.4" y1="1218.6" x2="727.4" y2="1382.1" stroke="#D0175F" stroke-width="2"/>
<polygon points="729,1394 721.5,1382.9 727.8,1385.1 733.3,1381.3" fill="#D0175F"/>
<line x1="705.4" y1="1218.6" x2="865.9" y2="1395.1" stroke="#D0175F" stroke-width="2"/>
<polygon points="874,1404 861.5,1399.2 867.9,1397.3 870.4,1391.1" fill="#D0175F"/>
<line x1="1112" y1="1298" x2="1098.8" y2="1500.0" stroke="#8585C4" stroke-width="1.6"/>
<polygon points="1098,1512 1092.8,1499.6 1098.6,1503.0 1104.8,1500.4" fill="#8585C4"/>
<line x1="717" y1="1637" x2="716.1" y2="1547.0" stroke="#8585C4" stroke-width="1.6"/>
<polygon points="716,1535 722.1,1546.9 716.1,1544.0 710.1,1547.1" fill="#8585C4"/>
<line x1="768" y1="1645" x2="849.8" y2="1556.8" stroke="#8585C4" stroke-width="1.6"/>
<polygon points="858,1548 854.2,1560.9 851.9,1554.6 845.4,1552.7" fill="#8585C4"/>
<rect x="646" y="1653" width="179" height="139" fill="#fff" fill-opacity="0.6" filter="url(#soft)"/>
<text x="686.6" y="1702.0" font-family='"Liberation Sans", sans-serif' font-size="24.5" font-weight="bold" font-style="normal" fill="#7B7DBD" textLength="97.4" lengthAdjust="spacingAndGlyphs" stroke="#7B7DBD" stroke-width="0.7">Ouf! Repos</text>
<text x="676.0" y="1733.5" font-family='"Liberation Sans", sans-serif' font-size="24.5" font-weight="bold" font-style="normal" fill="#7B7DBD" textLength="119.2" lengthAdjust="spacingAndGlyphs" stroke="#7B7DBD" stroke-width="0.7">entre les pics</text>
<text x="681.7" y="1765.0" font-family='"Liberation Sans", sans-serif' font-size="24.5" font-weight="bold" font-style="normal" fill="#7B7DBD" textLength="107.7" lengthAdjust="spacingAndGlyphs" stroke="#7B7DBD" stroke-width="0.7">d’insuline...</text>
<ellipse cx="313.4" cy="1653" rx="160" ry="140" fill="url(#oval)"/>
<text x="259.7" y="1578.0" font-family='"Liberation Sans", sans-serif' font-size="27" font-weight="900" font-style="normal" fill="#D31B6C" textLength="108.8" lengthAdjust="spacingAndGlyphs" stroke="#D31B6C" stroke-width="1.8" stroke-linejoin="round">Un des</text>
<text x="227.3" y="1613.0" font-family='"Liberation Sans", sans-serif' font-size="27" font-weight="900" font-style="normal" fill="#D31B6C" textLength="173.9" lengthAdjust="spacingAndGlyphs" stroke="#D31B6C" stroke-width="1.8" stroke-linejoin="round">fléaux  qui</text>
<text x="233.4" y="1648.0" font-family='"Liberation Sans", sans-serif' font-size="27" font-weight="900" font-style="normal" fill="#D31B6C" textLength="160.2" lengthAdjust="spacingAndGlyphs" stroke="#D31B6C" stroke-width="1.8" stroke-linejoin="round">sous-tend</text>
<text x="219.2" y="1681.0" font-family='"Liberation Sans", sans-serif' font-size="27" font-weight="900" font-style="normal" fill="#D31B6C" textLength="190.4" lengthAdjust="spacingAndGlyphs" stroke="#D31B6C" stroke-width="1.8" stroke-linejoin="round">quantité de</text>
<text x="207.7" y="1716.0" font-family='"Liberation Sans", sans-serif' font-size="27" font-weight="900" font-style="normal" fill="#D31B6C" textLength="213.1" lengthAdjust="spacingAndGlyphs" stroke="#D31B6C" stroke-width="1.8" stroke-linejoin="round">nos maladies</text>
<text x="232.5" y="1750.6" font-family='"Liberation Sans", sans-serif' font-size="27" font-weight="900" font-style="normal" fill="#D31B6C" textLength="163.2" lengthAdjust="spacingAndGlyphs" stroke="#D31B6C" stroke-width="1.8" stroke-linejoin="round">modernes</text>
<text x="45.9" y="1905.8" font-family='"Liberation Sans", sans-serif' font-size="23.5" font-weight="bold" font-style="normal" fill="#FFFFFF" textLength="533.8" lengthAdjust="spacingAndGlyphs" stroke="#fff" stroke-width="0.7">Dans <tspan font-style="italic">Cinglés de sucres</tspan>, j’invite à ne PAS pratiquer les multi-</text>
<text x="45.9" y="1937.0" font-family='"Liberation Sans", sans-serif' font-size="23.5" font-weight="bold" font-style="normal" fill="#FFFFFF" textLength="520.3" lengthAdjust="spacingAndGlyphs" stroke="#fff" stroke-width="0.7">collations , conseillées dans tant de plans d’alimentation</text>
<text x="45.9" y="1968.6" font-family='"Liberation Sans", sans-serif' font-size="23.5" font-weight="bold" font-style="normal" fill="#FFFFFF" textLength="460.5" lengthAdjust="spacingAndGlyphs" stroke="#fff" stroke-width="0.7">saine. Dès que vous mangerez des repas denses en</text>
<text x="218.0" y="2002.0" font-family='"Liberation Sans", sans-serif' font-size="23.5" font-weight="bold" font-style="normal" fill="#FFFFFF" textLength="324.8" lengthAdjust="spacingAndGlyphs" stroke="#fff" stroke-width="0.7">nutriments et en graisses, finies les</text>
<text x="218.0" y="2033.5" font-family='"Liberation Sans", sans-serif' font-size="23.5" font-weight="bold" font-style="normal" fill="#FFFFFF" textLength="363.2" lengthAdjust="spacingAndGlyphs" stroke="#fff" stroke-width="0.7">envies de grignotage.  Vous en viendrez</text>
<text x="218.0" y="2065.4" font-family='"Liberation Sans", sans-serif' font-size="23.5" font-weight="bold" font-style="normal" fill="#FFFFFF" textLength="336.8" lengthAdjust="spacingAndGlyphs" stroke="#fff" stroke-width="0.7">tout naturellement à ne manger que</text>
<text x="218.0" y="2098.4" font-family='"Liberation Sans", sans-serif' font-size="23.5" font-weight="bold" font-style="normal" fill="#FFFFFF" textLength="344.7" lengthAdjust="spacingAndGlyphs" stroke="#fff" stroke-width="0.7">deux à trois fois par jour, sans force et</text>
<text x="218.0" y="2129.3" font-family='"Liberation Sans", sans-serif' font-size="23.5" font-weight="bold" font-style="normal" fill="#FFFFFF" textLength="246.0" lengthAdjust="spacingAndGlyphs" stroke="#fff" stroke-width="0.7">sans restriction volontaire.</text>
<text x="218.0" y="2161.7" font-family='"Liberation Sans", sans-serif' font-size="23.5" font-weight="bold" font-style="normal" fill="#FFFFFF" textLength="242.0" lengthAdjust="spacingAndGlyphs" stroke="#fff" stroke-width="0.7">www.cinglesdesucres.com</text>
<rect x="55" y="2008" width="153" height="221" fill="#0A1850" filter="url(#shadow)" opacity="0.85"/>
<rect x="48" y="2000" width="155" height="219" fill="#FCFBF4"/>
<rect x="48" y="2000" width="27" height="219" fill="#DF7B4B"/>
<text transform="translate(66.5,2072) rotate(-90)" font-family='"Liberation Sans", sans-serif' font-size="14" font-weight="bold" fill="#fff" textLength="59" lengthAdjust="spacingAndGlyphs">LES TOPOS</text>
<text x="83.7" y="2018.7" font-family='"Liberation Sans", sans-serif' font-size="7.5" font-weight="bold" fill="#222" textLength="58" lengthAdjust="spacingAndGlyphs">TATY LAUWERS</text>
<text x="83.7" y="2038" font-family='"Liberation Sans", sans-serif' font-size="12.6" font-weight="bold" fill="#111" textLength="68.7" lengthAdjust="spacingAndGlyphs">CINGLÉS DE</text>
<text x="83.7" y="2053.5" font-family='"Liberation Sans", sans-serif' font-size="12.6" font-weight="bold" fill="#111" textLength="42.3" lengthAdjust="spacingAndGlyphs">SUCRES</text>
<path d="M76 2178 Q110 2170 150 2176 Q180 2180 203 2176 L203 2219 L75 2219 Z" fill="#EAE2CB"/>
<path d="M76 2192 Q120 2186 203 2196" stroke="#D8CFB5" stroke-width="2" fill="none"/>
<path d="M185 2100 Q203 2098 203 2110 L203 2172 Q188 2176 180 2160 Q176 2130 185 2100 Z" fill="#F3EC8F" opacity="0.9"/>
<path d="M125 2086 Q140 2076 160 2084 Q178 2096 176 2118 Q170 2136 150 2138 Q130 2138 122 2122 Q116 2100 125 2086 Z" fill="#F4BD3C"/>
<path d="M84 2139 Q110 2128 150 2126 Q156 2150 149 2171 Q132 2170 118 2162 Q100 2150 84 2139 Z" fill="#5EA7DE"/>
<path d="M83 2091 Q92 2086 100 2098 Q112 2120 128 2138 Q138 2152 132 2156 Q118 2160 102 2146 Q86 2130 82 2105 Z" fill="#3C5445" stroke="#C8743F" stroke-width="1.3"/>
<path d="M108 2063 Q128 2066 150 2072 Q162 2076 169 2082 L166 2086 Q150 2080 130 2074 Q115 2070 108 2063 Z" fill="#D8336A"/>
<circle cx="162" cy="2069" r="5" fill="#B98A6A"/>
<path d="M81 2156 L100 2155" stroke="#D8336A" stroke-width="3"/>
<path d="M128 2168 L124 2186" stroke="#D8336A" stroke-width="3"/><path d="M124 2186 l-4 6" stroke="#2E8B8B" stroke-width="3"/>
<path d="M172 2118 L188 2134" stroke="#6A9A50" stroke-width="1.5"/>
<rect x="164" y="2174" width="26" height="1.2" fill="#8A8A8A" opacity="0.45"/>
<rect x="168" y="2181" width="22" height="1.2" fill="#8A8A8A" opacity="0.45"/>
<rect x="168" y="2188" width="22" height="1.2" fill="#8A8A8A" opacity="0.45"/>
<rect x="174" y="2195" width="16" height="1.2" fill="#8A8A8A" opacity="0.45"/>
<rect x="176" y="2202" width="14" height="1.2" fill="#8A8A8A" opacity="0.45"/>
<ellipse cx="985" cy="2060" rx="244" ry="246" fill="url(#glow)"/>
<text x="710.0" y="1917.7" font-family='"Liberation Sans", sans-serif' font-size="33" font-weight="bold" font-style="normal" fill="#FFFFFF" textLength="542.3" lengthAdjust="spacingAndGlyphs" stroke="#fff" stroke-width="0.8">Bénédiction pour nos enfants en bonne</text>
<text x="712.6" y="1965.0" font-family='"Liberation Sans", sans-serif' font-size="33" font-weight="bold" font-style="normal" fill="#FFFFFF" textLength="537.7" lengthAdjust="spacingAndGlyphs" stroke="#fff" stroke-width="0.8">santé: ce phénomène ne les touche pas</text>
<text x="722.6" y="2013.0" font-family='"Liberation Sans", sans-serif' font-size="33" font-weight="bold" font-style="normal" fill="#FFFFFF" textLength="517.7" lengthAdjust="spacingAndGlyphs" stroke="#fff" stroke-width="0.8">autant que les adultes, ils ne sont pas</text>
<text x="690.0" y="2060.6" font-family='"Liberation Sans", sans-serif' font-size="33" font-weight="bold" font-style="normal" fill="#FFFFFF" textLength="582.4" lengthAdjust="spacingAndGlyphs" stroke="#fff" stroke-width="0.8">encore insulino-résistants. Deux collations</text>
<text x="716.0" y="2109.7" font-family='"Liberation Sans", sans-serif' font-size="33" font-weight="bold" font-style="normal" fill="#FFFFFF" textLength="529.3" lengthAdjust="spacingAndGlyphs" stroke="#fff" stroke-width="0.8">par jour pour un enfant ne pose pas de</text>
<text x="725.0" y="2156.8" font-family='"Liberation Sans", sans-serif' font-size="33" font-weight="bold" font-style="normal" fill="#FFFFFF" textLength="511.3" lengthAdjust="spacingAndGlyphs" stroke="#fff" stroke-width="0.8">souci. Des grignotages à tout bout de</text>
<text x="825.4" y="2206.0" font-family='"Liberation Sans", sans-serif' font-size="33" font-weight="bold" font-style="normal" fill="#FFFFFF" textLength="311.6" lengthAdjust="spacingAndGlyphs" stroke="#fff" stroke-width="0.8">champ, en revanche....</text>
</svg>
</body></html>
